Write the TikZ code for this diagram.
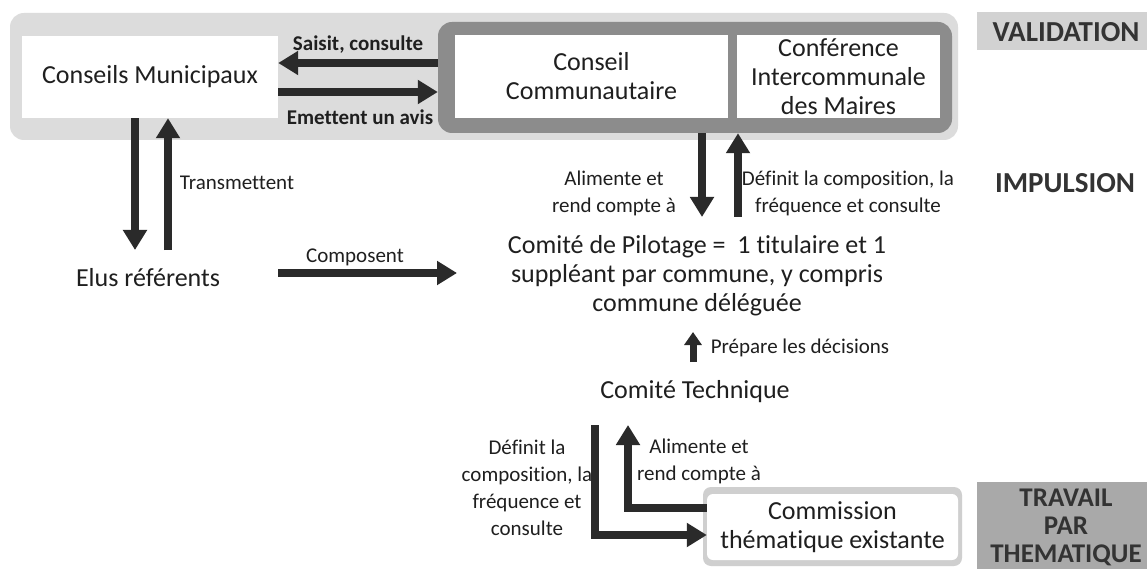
\documentclass[tikz,border=0pt]{standalone}
\usepackage{fontspec}
\setmainfont{Carlito}[Ligatures={NoCommon,NoContextual}]
\usetikzlibrary{arrows.meta}
\definecolor{arrowc}{HTML}{2A2A2A}
\definecolor{bandc}{HTML}{DCDCDC}
\definecolor{framec}{HTML}{8C8C8C}
\definecolor{commc}{HTML}{CFCFCF}
\definecolor{valc}{HTML}{D2D2D2}
\definecolor{travc}{HTML}{A9A9A9}
\definecolor{tagtext}{HTML}{333333}
\begin{document}
\begin{tikzpicture}[x=1pt,y=-1pt,
  main/.style={font=\fontsize{26}{29}\selectfont, align=center, inner sep=0pt, text=black!88},
  lbl/.style={font=\fontsize{21}{27}\selectfont, align=center, inner sep=0pt, text=black!88},
  lblb/.style={font=\bfseries\fontsize{21}{27}\selectfont, align=center, inner sep=0pt, text=black!88},
  tag/.style={font=\bfseries\fontsize{29}{30}\selectfont, align=center, inner sep=0pt, text=tagtext},
  tagsmall/.style={font=\bfseries\fontsize{27}{28}\selectfont, align=center, inner sep=0pt, text=tagtext},
  bigarrow/.style={-{Triangle[length=20pt,width=23pt]}, line width=8pt, draw=arrowc},
  smallarrow/.style={-{Triangle[length=13pt,width=17pt]}, line width=7pt, draw=arrowc},
  whitebox/.style={fill=white, inner sep=0pt}
]
\useasboundingbox (0,0) rectangle (1147,569);
\fill[white] (0,0) rectangle (1147,569);

% validation band
\fill[bandc, rounded corners=14pt] (10,13) rectangle (958,140);

% Conseils Municipaux
\node[whitebox, main, minimum width=256pt, minimum height=82pt] (cm) at (150,77) {Conseils Municipaux};

% frame with the two councils
\node[fill=framec, rounded corners=14pt, minimum width=514pt, minimum height=111pt, inner sep=0pt] (frame) at (695,77.5) {};
\node[whitebox, main, minimum width=273pt, minimum height=83pt] (cc) at (591.5,76.5) {Conseil\\Communautaire};
\node[whitebox, main, minimum width=203pt, minimum height=83pt] (cim) at (838.5,76.5) {Conférence\\Intercommunale\\des Maires};

% side tags
\node[fill=valc, minimum width=170pt, minimum height=38pt, inner sep=0pt] (valbox) at (1062,31) {};
\node[tag] (val) at (1066,32) {VALIDATION};
\node[tag] (imp) at (1065,183) {IMPULSION};
\node[fill=travc, minimum width=170pt, minimum height=90pt, inner sep=0pt] (travbox) at (1062,527) {};
\node[tagsmall] (trav) at (1066,527) {TRAVAIL\\PAR\\THEMATIQUE};

% other nodes
\node[main] (elus) at (148,278) {Elus référents};
\node[main] (copil) at (697,276) {Comité de Pilotage =\ \ 1 titulaire et 1\\suppléant par commune, y compris\\commune déléguée};
\node[main] (ct) at (695,392) {Comité Technique};

% Commission
\fill[commc, rounded corners=8pt] (703,487) rectangle (962,566);
\node[whitebox, main, minimum width=251pt, minimum height=66pt, rounded corners=6pt] (comm) at (832.5,527) {Commission\\thématique existante};

% coordinates for free ends
\coordinate (elusTop) at (0,250);
\coordinate (copTop) at (0,217);
\coordinate (compS) at (278,273);
\coordinate (compE) at (457,273);
\coordinate (ctTop) at (0,362);
\coordinate (ctTip) at (0,332);
\coordinate (ctBot) at (0,425);

% arrows top
\draw[bigarrow] (frame.west |- 0,63) -- (cm.east |- 0,63);
\draw[bigarrow] (cm.east |- 0,92) -- (frame.west |- 0,92);
\node[lblb] (l1) at (358,45) {Saisit, consulte};
\node[lblb] (l2) at (360,117) {Emettent un avis};

% Elus arrows
\draw[bigarrow] (cm.south -| 135,0) -- (elusTop -| 135,0);
\draw[bigarrow] (elusTop -| 168,0) -- (cm.south -| 168,0);
\node[lbl] (l3) at (237,183) {Transmettent};

% Composent
\draw[bigarrow] (compS) -- (compE);
\node[lbl] (l4) at (355,257) {Composent};

% frame <-> copil
\draw[bigarrow] (frame.south -| 702,0) -- (copTop -| 702,0);
\draw[bigarrow] (copTop -| 738,0) -- (frame.south -| 738,0);
\node[lbl] (l5) at (614,193.5) {Alimente et\\rend compte à};
\node[lbl] (l6) at (848,193.5) {Définit la composition, la\\fréquence et consulte};

% Prépare
\draw[smallarrow] (ctTop -| 693,0) -- (ctTip -| 693,0);
\node[lbl] (l7) at (800,348) {Prépare les décisions};

% bottom arrows
\draw[bigarrow] (ctBot -| 595,0) -- (595,535) -- (comm.west |- 0,535);
\draw[bigarrow] (comm.west |- 0,508) -- (628,508) -- (ctBot -| 628,0);
\node[lbl] (l8) at (527,487.5) {Définit la\\composition, la\\fréquence et\\consulte};
\node[lbl] (l9) at (699,461) {Alimente et\\rend compte à};
\end{tikzpicture}
\end{document}
